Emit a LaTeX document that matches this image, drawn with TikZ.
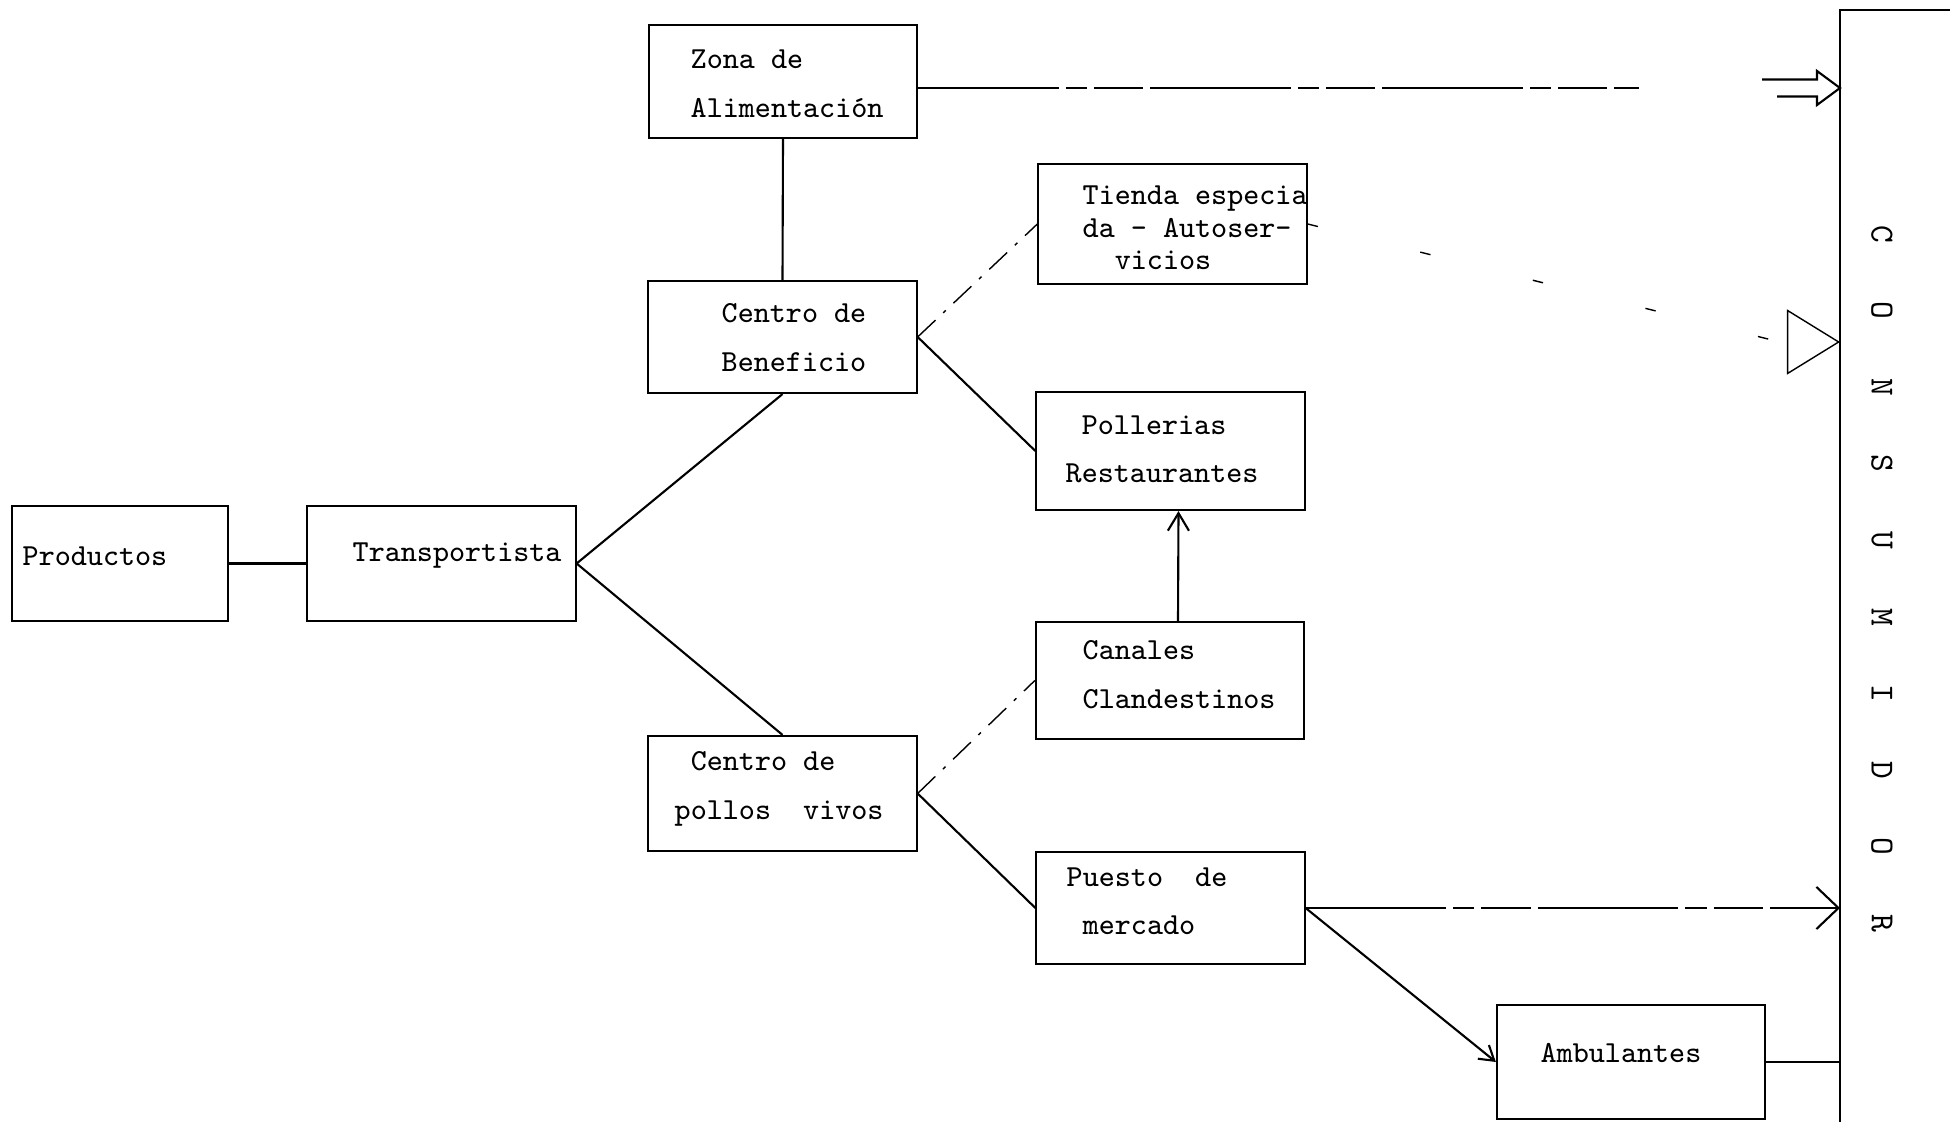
\documentclass[tikz,border=0pt]{standalone}
\usepackage{tikz}
\usetikzlibrary{arrows.meta}

\tikzset{
  box/.style={draw,semithick,minimum width=2.68cm,minimum height=1.15cm,inner sep=0pt},
  txt/.style={anchor=west,inner sep=0pt,align=left,font=\fontsize{8.7}{13.8}\selectfont\ttfamily},
  broken/.style={semithick,dash pattern=on 40pt off 2pt on 6pt off 2pt on 14pt off 2pt},
  faint/.style={thin,dash pattern=on 7pt off 3pt on 1pt off 3pt},
  sparse/.style={thin,dash pattern=on 3pt off 30pt},
}

\begin{document}
\begin{tikzpicture}[x=0.01cm,y=-0.01cm]
    \useasboundingbox (0,0) rectangle (1950,1122);

    % boxes
    \node (productos) at (120,563.5) [box,minimum width=2.16cm] {};
    \node (transp) at (441.5,563.5) [box] {};
    \node (zona) at (783,81.5) [box,minimum height=1.13cm] {};
    \node (benef) at (782.5,337) [box,minimum height=1.12cm] {};
    \node (pollos) at (782.5,793.5) [box] {};
    \node (tienda) at (1172.5,224) [box,minimum height=1.2cm] {};
    \node (poller) at (1170.5,451) [box,minimum height=1.18cm] {};
    \node (canales) at (1170,680.5) [box,minimum height=1.17cm] {};
    \node (puesto) at (1170.5,908) [box,minimum height=1.12cm] {};
    \node (ambul) at (1631,1062) [box,minimum height=1.14cm] {};

    % texts
    \node (productosT) at (22,556) [txt] {Productos};
    \node (transpT) at (352,556) [txt] {Transportista};
    \node (zonaT) at (690,84) [txt] {Zona de\\Alimentación};
    \node (benefT) at (721,337.5) [txt] {Centro de\\Beneficio};
    \node (pollosT) at (674,789) [txt] {\phantom{x}Centro de\\pollos\ \ vivos};
    \node (tiendaT) at (1082,228) [txt,font=\fontsize{8.7}{9.25}\selectfont\ttfamily]
      {Tienda especia\\da - Autoser-\\\phantom{xx}vicios};
    \node (pollerT) at (1065,449.5) [txt] {\phantom{x}Pollerias\\Restaurantes};
    \node (canalesT) at (1082,674.5) [txt] {Canales\\Clandestinos};
    \node (puestoT) at (1066,901) [txt] {Puesto\ \ de\\\phantom{x}mercado};
    \node (ambulT) at (1540,1053) [txt] {Ambulantes};

    % consumidor
    \coordinate (cons) at (1840,10);
    \draw[semithick] (1950,10) -- (cons) -- (1840,1122);
    \foreach \l [count=\i] in {C,O,N,S,U,M,I,D,O,R}
      \node (cl\i) at (1882,{234+76.6*(\i-1)}) [txt,anchor=center,rotate=-90,
        font=\fontsize{9.6}{12}\selectfont\ttfamily] {\l};

    % connectors
    \draw[semithick] (productos) -- (transp);
    \draw[semithick] (zona.south) -- (benef.north);
    \draw[semithick] (transp.east) -- (benef.south);
    \draw[semithick] (transp.east) -- (pollos.north);
    \draw[faint] (benef.east) -- (tienda.west);
    \draw[semithick] (benef.east) -- (poller.west);
    \draw[faint] (pollos.east) -- (canales.west);
    \draw[semithick] (pollos.east) -- (puesto.west);
    \draw[semithick,-{Straight Barb[length=5pt,width=6pt]}]
      ([xshift=0.08cm]canales.north) -- ([xshift=0.08cm]poller.south);
    \draw[semithick,-{Straight Barb[length=4pt,width=5pt]}] (puesto.east) -- (ambul.west);
    \draw[broken,-{Straight Barb[length=0.22cm,width=0.42cm]}] (puesto.east) -- (puesto.east -| cons);
    \draw[broken] (ambul.east) -- (ambul.east -| cons);

    % alimentacion to consumidor
    \coordinate (zend) at (1639,88);
    \draw[broken] (zona.east |- zend) -- (zend);
    \draw[semithick] (1762,79.5) -- (1817,79.5) -- (1817,71) -- (1840,88)
      -- (1817,105) -- (1817,96.5) -- (1777,96.5);

    % tienda to consumidor
    \draw[sparse,-{Triangle[open,length=0.53cm,width=0.65cm]}]
      (tienda.east) -- (1780,342) -- (cons |- 0,342);
\end{tikzpicture}
\end{document}
